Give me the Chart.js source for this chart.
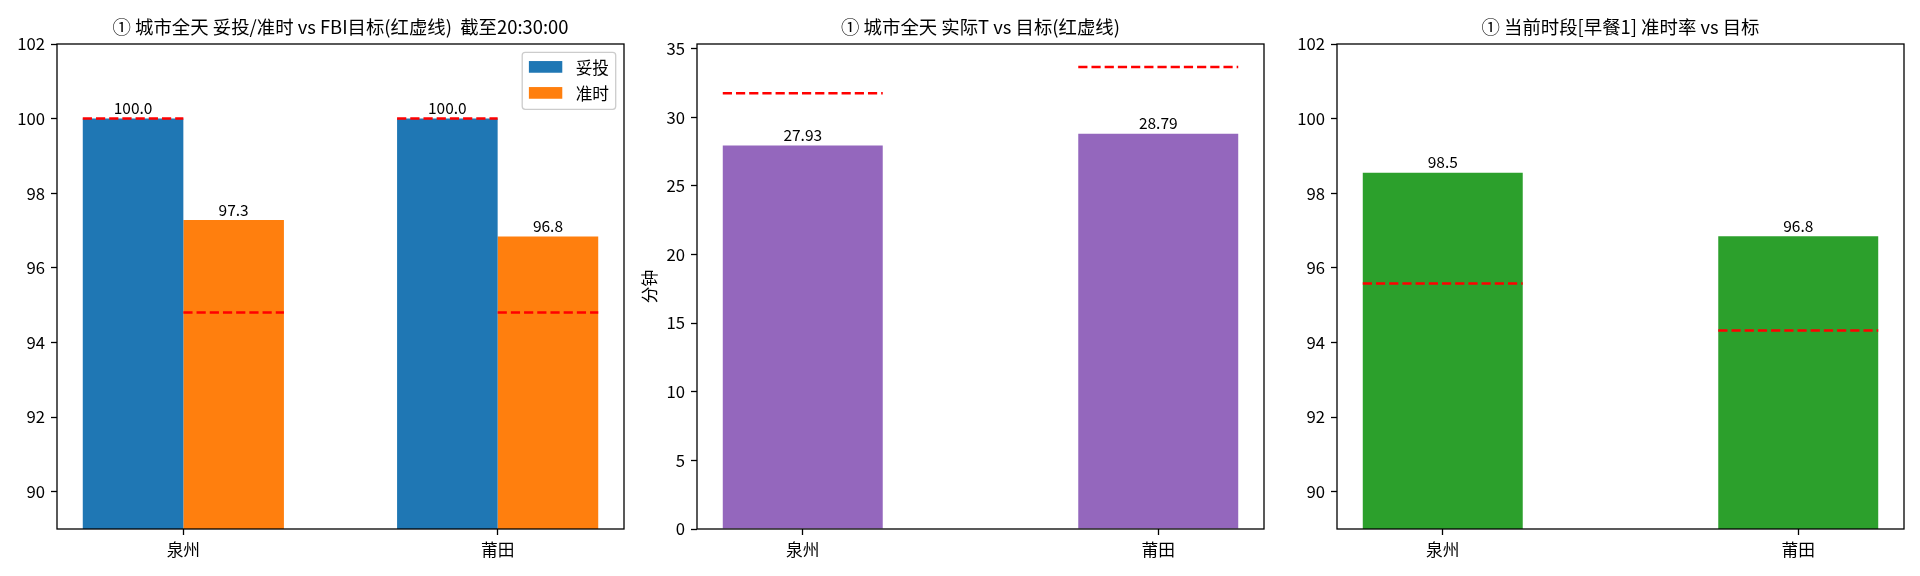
<!DOCTYPE html>
<html>
<head>
<meta charset="utf-8">
<script src="https://cdn.jsdelivr.net/npm/chart.js@4.4.0/dist/chart.umd.min.js"></script>
<style>
html, body { margin: 0; padding: 0; background: #fff; }
#wrap { position: relative; width: 1920px; height: 576px; }
.box { position: absolute; top: 0; width: 640px; height: 576px; }
</style>
</head>
<body>
<div id="wrap">
  <div class="box" style="left:0"><canvas id="c1" width="640" height="576"></canvas></div>
  <div class="box" style="left:640px"><canvas id="c2" width="640" height="576"></canvas></div>
  <div class="box" style="left:1280px"><canvas id="c3" width="640" height="576"></canvas></div>
</div>
<script>
// data
var cities = ['泉州', '莆田'];

// 1: 妥投 / 准时 vs FBI 目标
var deliveredRate = [100.0, 100.0];
var onTimeRate = [97.28, 96.84];
var deliveredTarget = [100, 100];
var onTimeTarget = [94.8, 94.8];

// 2: 实际T vs 目标 (分钟)
var actualT = [27.93, 28.79];
var targetT = [31.75, 33.65];

// 3: 当前时段 准时率 vs 目标
var slotOnTime = [98.55, 96.85];
var slotTarget = [95.58, 94.32];

var pctTicks = [90, 92, 94, 96, 98, 100, 102];
var minuteTicks = [0, 5, 10, 15, 20, 25, 30, 35];

var FONT = "'Noto Sans CJK SC', 'Noto Sans', sans-serif";
Chart.defaults.font.family = FONT;
Chart.defaults.color = '#000';

function points(arr) {
  return arr.map(function (v, i) { return { x: i, y: v }; });
}

// draws dashed targets, bar labels, frame, title, legend
var decor = {
  id: 'decor',
  afterDatasetsDraw: function (chart, args, opts) {
    var ctx = chart.ctx, a = chart.chartArea, ys = chart.scales.y;
    ctx.save();

    // red dashed target over each bar
    (opts.targets || []).forEach(function (t) {
      var meta = chart.getDatasetMeta(t.dataset);
      meta.data.forEach(function (bar, i) {
        var py = ys.getPixelForValue(t.values[i]);
        ctx.strokeStyle = '#ff0000';
        ctx.lineWidth = 2.5;
        ctx.setLineDash([9.2, 4]);
        ctx.beginPath();
        ctx.moveTo(bar.x - bar.width / 2, py);
        ctx.lineTo(bar.x + bar.width / 2, py);
        ctx.stroke();
      });
    });
    ctx.setLineDash([]);

    // values above bars
    ctx.fillStyle = '#000';
    ctx.font = '15.5px ' + FONT;
    ctx.textAlign = 'center';
    ctx.textBaseline = 'alphabetic';
    chart.data.datasets.forEach(function (ds, di) {
      chart.getDatasetMeta(di).data.forEach(function (bar, i) {
        ctx.fillText(ds.data[i].y.toFixed(opts.decimals), bar.x, bar.y - 4.5);
      });
    });

    // axes frame
    ctx.strokeStyle = '#000';
    ctx.lineWidth = 1.3;
    ctx.strokeRect(a.left, a.top, a.right - a.left, a.bottom - a.top);

    // title centred over the axes
    ctx.font = '18.4px ' + FONT;
    ctx.fillText(opts.title, (a.left + a.right) / 2, a.top - 10);

    // legend box, upper right
    if (opts.legend) {
      var em = 16.7;
      ctx.font = em + 'px ' + FONT;
      var tw = 0;
      chart.data.datasets.forEach(function (ds) { tw = Math.max(tw, ctx.measureText(ds.label).width); });
      var w = 0.4 * em + 2 * em + 0.8 * em + tw + 0.4 * em;
      var h = 57;
      var x0 = a.right - 8.3 - w, y0 = a.top + 8.3;
      ctx.beginPath();
      ctx.roundRect(x0, y0, w, h, 3);
      ctx.fillStyle = 'rgba(255,255,255,0.8)';
      ctx.fill();
      ctx.strokeStyle = '#cccccc';
      ctx.lineWidth = 1.3;
      ctx.stroke();
      ctx.textAlign = 'left';
      ctx.textBaseline = 'middle';
      chart.data.datasets.forEach(function (ds, di) {
        var cy = y0 + 14.6 + di * 26;
        ctx.fillStyle = ds.backgroundColor;
        ctx.fillRect(x0 + 0.4 * em, cy - 0.35 * em, 2 * em, 0.7 * em);
        ctx.fillStyle = '#000';
        ctx.fillText(ds.label, x0 + 0.4 * em + 2 * em + 0.8 * em, cy + 1);
      });
    }
    ctx.restore();
  }
};

function makeChart(id, datasets, cfg) {
  return new Chart(document.getElementById(id), {
    type: 'bar',
    data: { datasets: datasets },
    options: {
      responsive: false,
      animation: false,
      devicePixelRatio: 1,
      layout: { padding: { top: 44, right: 16, left: 0, bottom: 0 } },
      datasets: { bar: { categoryPercentage: cfg.catPct, barPercentage: 1.0, borderWidth: 0 } },
      plugins: {
        legend: { display: false },
        tooltip: { enabled: false },
        decor: { targets: cfg.targets, decimals: cfg.decimals, title: cfg.title, legend: cfg.legend }
      },
      scales: {
        x: {
          type: 'linear',
          offset: false,
          min: cfg.xMin,
          max: cfg.xMax,
          afterBuildTicks: function (s) { s.ticks = cities.map(function (c, i) { return { value: i }; }); },
          afterFit: function (s) { s.height = 47; },
          ticks: {
            autoSkip: false, maxRotation: 0, padding: 5,
            font: { size: 16.7 },
            callback: function (v) { return cities[v]; }
          },
          grid: { display: true, offset: false, drawOnChartArea: false, drawTicks: true, tickLength: 6, tickColor: '#000', tickWidth: 1.3 },
          border: { display: false }
        },
        y: {
          min: cfg.yMin,
          max: cfg.yMax,
          afterBuildTicks: function (s) { s.ticks = cfg.yTicks.map(function (v) { return { value: v }; }); },
          afterFit: function (s) { s.width = 57; },
          ticks: { padding: 6, font: { size: 16.7 } },
          title: cfg.yTitle ? { display: true, text: cfg.yTitle, font: { size: 16.7 }, padding: 0 } : { display: false },
          grid: { display: true, drawOnChartArea: false, drawTicks: true, tickLength: 6, tickColor: '#000', tickWidth: 1.3 },
          border: { display: false }
        }
      }
    },
    plugins: [decor]
  });
}

makeChart('c1', [
  { label: '妥投', data: points(deliveredRate), backgroundColor: '#1f77b4' },
  { label: '准时', data: points(onTimeRate), backgroundColor: '#ff7f0e' }
], {
  catPct: 0.64, xMin: -0.402, xMax: 1.402,
  yMin: 89, yMax: 102, yTicks: pctTicks, decimals: 1, legend: true,
  title: '① 城市全天 妥投/准时 vs FBI目标(红虚线)  截至20:30:00',
  targets: [{ dataset: 0, values: deliveredTarget }, { dataset: 1, values: onTimeTarget }]
});

makeChart('c2', [
  { label: '实际T', data: points(actualT), backgroundColor: '#9467bd' }
], {
  catPct: 0.45, xMin: -0.2975, xMax: 1.2975,
  yMin: 0, yMax: 35.33, yTicks: minuteTicks, decimals: 2, yTitle: '分钟',
  title: '① 城市全天 实际T vs 目标(红虚线)',
  targets: [{ dataset: 0, values: targetT }]
});

makeChart('c3', [
  { label: '准时率', data: points(slotOnTime), backgroundColor: '#2ca02c' }
], {
  catPct: 0.45, xMin: -0.2975, xMax: 1.2975,
  yMin: 89, yMax: 102, yTicks: pctTicks, decimals: 1,
  title: '① 当前时段[早餐1] 准时率 vs 目标',
  targets: [{ dataset: 0, values: slotTarget }]
});
</script>
</body>
</html>
